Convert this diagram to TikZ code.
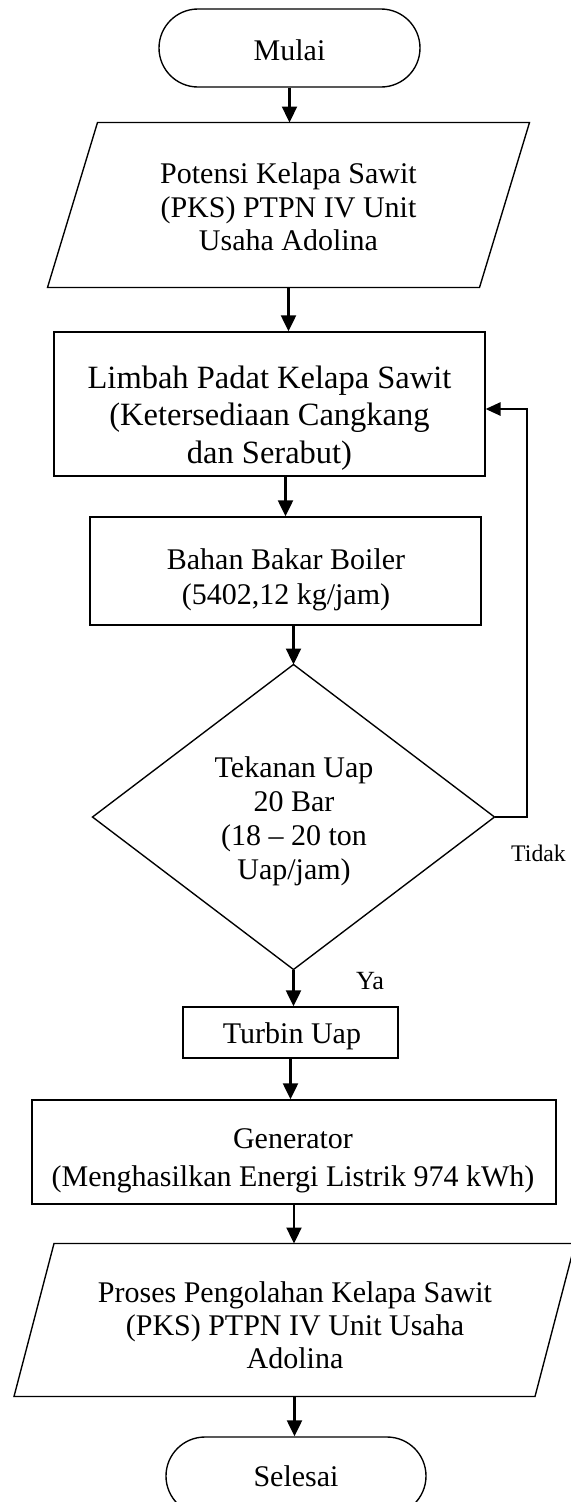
\documentclass[tikz,border=0pt]{standalone}
\usepackage{fontspec}
\setmainfont{Liberation Serif}
\usetikzlibrary{arrows.meta}

\tikzset{
  frame/.style={draw, line width=0.55pt, inner sep=0pt, minimum width=#1},
  blank/.style={inner sep=0pt, minimum width=#1},
  terminal/.style={frame=#1, rounded corners=15.6pt, minimum height=31.2pt},
  txt/.style={align=center, inner sep=0pt, font=\fontsize{12}{#1}\selectfont},
  flowarrow/.style={line width=0.9pt, -{Triangle[length=6.4pt,width=6pt]}},
  backarrow/.style={line width=0.6pt, -{Triangle[length=6pt,width=5.4pt]}},
  lbl/.style={inner sep=0pt, font=\fontsize{#1}{#1}\selectfont}
}

\begin{document}
\begin{tikzpicture}[x=0.4pt, y=-0.4pt]
  \useasboundingbox (0,0) rectangle (571,1502);
  \clip (0,0) rectangle (571,1502);

  % start
  \node[terminal=104.4pt] (mulai) at (289.5,48) {};
  \node[txt=13.4pt] (mulai-t) at (289.5,50) {Mulai};

  % input data (parallelogram drawn on a plain box)
  \node[blank=172.4pt, minimum height=65.6pt] (para1) at (288.5,205) {};
  \draw[line width=0.55pt]
    ([xshift=10pt]para1.north west) -- ([xshift=10pt]para1.north east) --
    ([xshift=-10pt]para1.south east) -- ([xshift=-10pt]para1.south west) -- cycle;
  \node[txt=13.4pt] (para1-t) at (288.5,207)
    {Potensi Kelapa Sawit\\(PKS) PTPN IV Unit\\Usaha Adolina};

  % solid waste
  \node[frame=172.4pt, minimum height=57.6pt] (box2) at (269.5,404) {};
  \node[align=center, inner sep=0pt, font=\fontsize{13}{15}\selectfont] (box2-t) at (269.5,418)
    {Limbah Padat Kelapa Sawit\\(Ketersediaan Cangkang\\dan Serabut)};

  % boiler fuel
  \node[frame=156.4pt, minimum height=43.2pt] (box3) at (285.5,571) {};
  \node[txt=14pt] (box3-t) at (286,580)
    {Bahan Bakar Boiler\\(5402,12 kg/jam)};

  % decision
  \node[blank=160.4pt, minimum height=121.6pt] (cek) at (293.5,817) {};
  \draw[line width=0.55pt]
    (cek.north) -- (cek.east) -- (cek.south) -- (cek.west) -- cycle;
  \node[txt=13.6pt] (cek-t) at (294,821)
    {Tekanan Uap\\20 Bar\\(18 -- 20 ton\\Uap/jam)};
  \node[lbl=9.5pt] (tidak) at (538.5,853) {Tidak};
  \node[lbl=10.5pt] (ya) at (370,981) {Ya};

  % turbine
  \node[frame=86pt, minimum height=20.4pt] (turbin) at (290.5,1032.5) {};
  \node[txt=13.4pt] (turbin-t) at (292,1036) {Turbin Uap};

  % generator
  \node[frame=209.6pt, minimum height=41.6pt] (gen) at (294,1152) {};
  \node[txt=15.2pt] (gen-t) at (293,1161)
    {Generator\\(Menghasilkan Energi Listrik 974 kWh)};

  % output (parallelogram drawn on a plain box)
  \node[blank=208pt, minimum height=60.8pt] (para2) at (294.5,1320) {};
  \draw[line width=0.55pt]
    ([xshift=8pt]para2.north west) -- ([xshift=8pt]para2.north east) --
    ([xshift=-8pt]para2.south east) -- ([xshift=-8pt]para2.south west) -- cycle;
  \node[txt=13.2pt] (para2-t) at (295,1325)
    {Proses Pengolahan Kelapa Sawit\\(PKS) PTPN IV Unit Usaha\\Adolina};

  % end
  \node[terminal=104pt] (selesai) at (296,1476) {};
  \node[txt=13.4pt] (selesai-t) at (296,1476) {Selesai};

  % main flow
  \draw[flowarrow] (mulai.south) -- (mulai.south |- para1.north);
  \draw[flowarrow] (para1.south) -- (para1.south |- box2.north);
  \draw[flowarrow] (box3.north |- box2.south) -- (box3.north);
  \draw[flowarrow] (cek.north |- box3.south) -- (cek.north);
  \draw[flowarrow] (cek.south) -- (cek.south |- turbin.north);
  \draw[flowarrow] (turbin.south) -- (turbin.south |- gen.north);
  \draw[flowarrow] (gen.south) -- (gen.south |- para2.north);
  \draw[flowarrow] (para2.south) -- (para2.south |- selesai.north);

  % loop back when pressure is not reached
  \coordinate (loop) at (527,409);
  \draw[backarrow] (cek.east) -| (loop) -- (box2.east |- loop);
\end{tikzpicture}
\end{document}
